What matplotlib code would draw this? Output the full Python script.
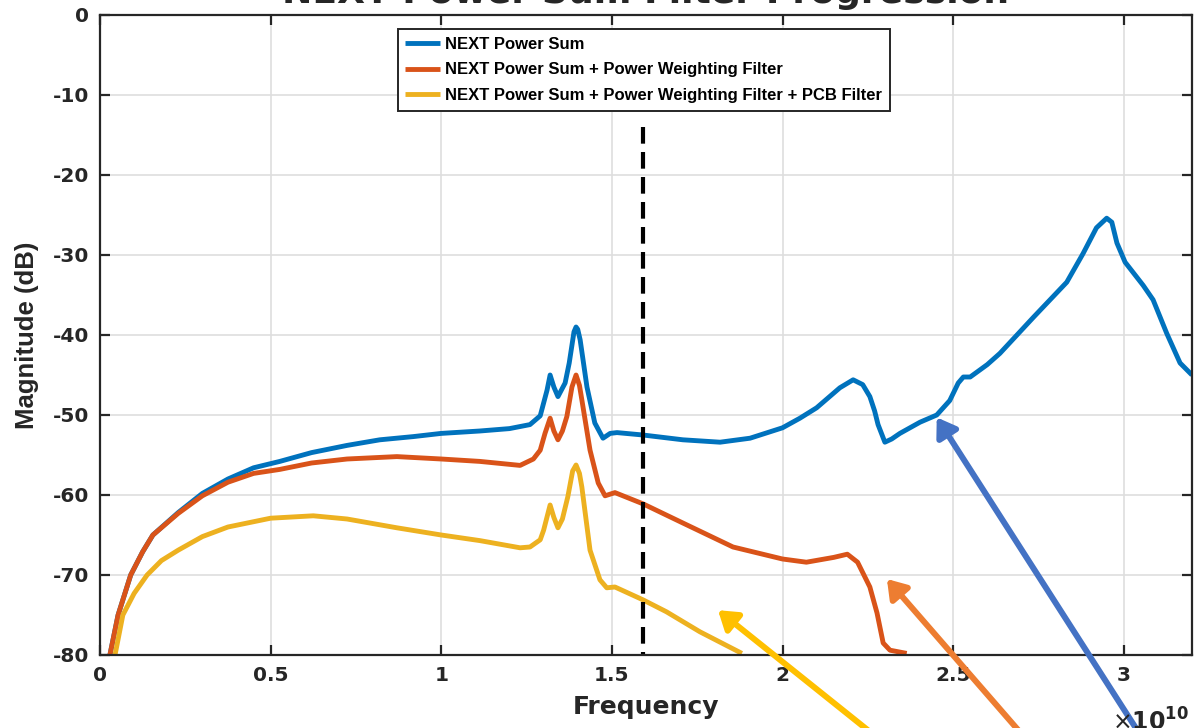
import numpy as np
import matplotlib
matplotlib.use('Agg')
from matplotlib import pyplot as plt

# frequencies in units of 1e10 Hz, magnitudes in dB
f_ps = [0.029, 0.053, 0.09, 0.125, 0.155, 0.229, 0.30, 0.375, 0.45, 0.527, 0.62,
        0.724, 0.82, 0.918, 1.0, 1.113, 1.2, 1.26, 1.29, 1.31, 1.319, 1.33, 1.342,
        1.363, 1.375, 1.389, 1.395, 1.40, 1.407, 1.427, 1.45, 1.474, 1.495, 1.515,
        1.591, 1.708, 1.817, 1.905, 2.0, 2.051, 2.1, 2.168, 2.207, 2.235, 2.256,
        2.27, 2.28, 2.30, 2.32, 2.344, 2.403, 2.452, 2.49, 2.515, 2.53, 2.55, 2.6,
        2.637, 2.735, 2.833, 2.881, 2.92, 2.95, 2.965, 2.98, 3.004, 3.057, 3.086,
        3.126, 3.165, 3.2]
db_ps = [-80, -75, -70, -67.1, -65, -62.2, -59.8, -58, -56.6, -55.8, -54.7,
         -53.8, -53.1, -52.7, -52.3, -52.0, -51.7, -51.2, -50.1, -46.9, -45, -46.5, -47.7,
         -46, -43.5, -39.6, -39, -39.3, -40.6, -46.5, -51, -52.9, -52.3, -52.2,
         -52.5, -53.1, -53.4, -52.9, -51.6, -50.4, -49.1, -46.6, -45.6, -46.2, -47.7,
         -49.5, -51.2, -53.4, -53.0, -52.3, -50.9, -50, -48.2, -46, -45.25, -45.25, -43.7,
         -42.3, -37.8, -33.4, -29.8, -26.6, -25.4, -25.9, -28.5, -30.9, -33.8, -35.6,
         -39.8, -43.5, -45]

f_pw = [0.029, 0.053, 0.09, 0.125, 0.155, 0.229, 0.30, 0.375, 0.45, 0.527, 0.62,
        0.724, 0.87, 1.0, 1.113, 1.231, 1.27, 1.29, 1.304, 1.319, 1.33, 1.342,
        1.355, 1.368, 1.383, 1.395, 1.405, 1.412, 1.436, 1.46, 1.48, 1.509, 1.591,
        1.708, 1.855, 2.0, 2.07, 2.15, 2.19, 2.22, 2.256, 2.277, 2.295, 2.315, 2.364]
db_pw = [-80, -75, -70, -67.1, -65, -62.3, -60.1, -58.4, -57.3, -56.8, -56,
         -55.5, -55.2, -55.5, -55.8, -56.3, -55.5, -54.4, -52.3, -50.4, -52, -53.1,
         -52, -50.2, -46.5, -45, -46.3, -48.1, -54.4, -58.5, -60.1, -59.7, -61.1,
         -63.5, -66.5, -68, -68.4, -67.8, -67.4, -68.4, -71.5, -74.75, -78.5, -79.4, -79.8]

f_pcb = [0.044, 0.067, 0.10, 0.138, 0.18, 0.229, 0.30, 0.375, 0.5, 0.625, 0.724,
         0.87, 1.0, 1.113, 1.231, 1.26, 1.29, 1.30, 1.319, 1.33, 1.342, 1.355,
         1.371, 1.385, 1.395, 1.405, 1.412, 1.436, 1.465, 1.485, 1.509, 1.591,
         1.66, 1.758, 1.881]
db_pcb = [-80, -75, -72.3, -70, -68.2, -66.9, -65.2, -64, -62.9, -62.6, -63,
          -64.1, -65, -65.7, -66.6, -66.5, -65.6, -64.4, -61.25, -62.8, -64.1, -63,
          -60.2, -57, -56.25, -57.3, -59, -66.9, -70.6, -71.6, -71.5, -73.1,
          -74.6, -77.1, -79.8]

labels = ['NEXT Power Sum',
          'NEXT Power Sum + Power Weighting Filter',
          'NEXT Power Sum + Power Weighting Filter + PCB Filter']
colors = ['#0072BD', '#D95319', '#EDB120']

cutoff = 1.59  # dashed marker, 1e10 Hz
cutoff_db = [-14, -80]

# (head, tail) of the callout arrows, in (1e10 Hz, dB)
arrow_heads = [(1.811, -74.4), (2.306, -70.5), (2.452, -50.3)]
arrow_tails = [(2.344, -92.6), (2.801, -94.8), (3.077, -91.9)]
arrow_colors = ['#FFC000', '#ED7D31', '#4472C4']

xticks = [0, 0.5, 1, 1.5, 2, 2.5, 3]
xticklabels = ['0', '0.5', '1', '1.5', '2', '2.5', '3']
yticks = [-80, -70, -60, -50, -40, -30, -20, -10, 0]

fig = plt.figure(figsize=(11.94, 7.28), dpi=100)
ax = fig.add_axes([100/1194, 73/728, 1092/1194, 640/728])

for f, m, lab, c in zip([f_ps, f_pw, f_pcb], [db_ps, db_pw, db_pcb], labels, colors):
    ax.plot(np.array(f)*1e10, m, color=c, lw=3.5, label=lab,
            solid_joinstyle='round', solid_capstyle='butt')

ax.plot([cutoff*1e10]*2, cutoff_db, color='k', lw=3, dashes=(4, 2))

for h, t, c in zip(arrow_heads, arrow_tails, arrow_colors):
    ax.annotate('', xy=(h[0]*1e10, h[1]), xytext=(t[0]*1e10, t[1]),
                arrowprops=dict(arrowstyle='-|>,head_length=0.45,head_width=0.3',
                                color=c, lw=4.3, mutation_scale=24,
                                shrinkA=0, shrinkB=0),
                annotation_clip=False)

ax.set_xlim(0, 3.2e10)
ax.set_ylim(-80, 0)
ax.set_xticks([x*1e10 for x in xticks])
ax.set_xticklabels(xticklabels)
ax.set_yticks(yticks)
ax.set_yticklabels([str(y) for y in yticks])
ax.grid(True, color='#dedede', lw=1.2)
ax.set_axisbelow(True)
for s in ax.spines.values():
    s.set_color('#262626')
    s.set_linewidth(1.6)
ax.tick_params(direction='in', length=7, width=1.6, color='#262626',
               top=True, right=True, pad=8, labelcolor='#262626')
for lbl in ax.get_xticklabels() + ax.get_yticklabels():
    lbl.set_fontfamily('DejaVu Sans')
    lbl.set_fontweight('bold')
    lbl.set_fontsize(14.5)

ax.set_xlabel('Frequency', fontfamily='DejaVu Sans', fontweight='bold',
              fontsize=18, color='#262626', labelpad=7)
ax.set_ylabel('Magnitude (dB)', fontfamily='Liberation Sans', fontweight='bold',
              fontsize=18.5, color='#262626', labelpad=10)

fig.text(646/1194, 1 - 3/728, 'NEXT Power Sum Filter Progression', ha='center',
         va='baseline', fontfamily='DejaVu Sans', fontweight='bold', fontsize=26,
         color='#262626')
fig.text(1112/1194, -3/728, r'$\times\mathbf{10}^{\mathbf{10}}$', ha='left',
         va='baseline', fontsize=17, color='#262626')

leg = ax.legend(loc='upper right', bbox_to_anchor=(0.7234, 0.978),
                prop={'family': 'Liberation Sans', 'weight': 'bold', 'size': 12},
                fancybox=False, framealpha=1, edgecolor='#262626',
                handlelength=2.1, handletextpad=0.3, labelspacing=0.65,
                borderpad=0.45, borderaxespad=0)
leg.get_frame().set_linewidth(1.4)

fig.savefig('out.png', dpi=100)
